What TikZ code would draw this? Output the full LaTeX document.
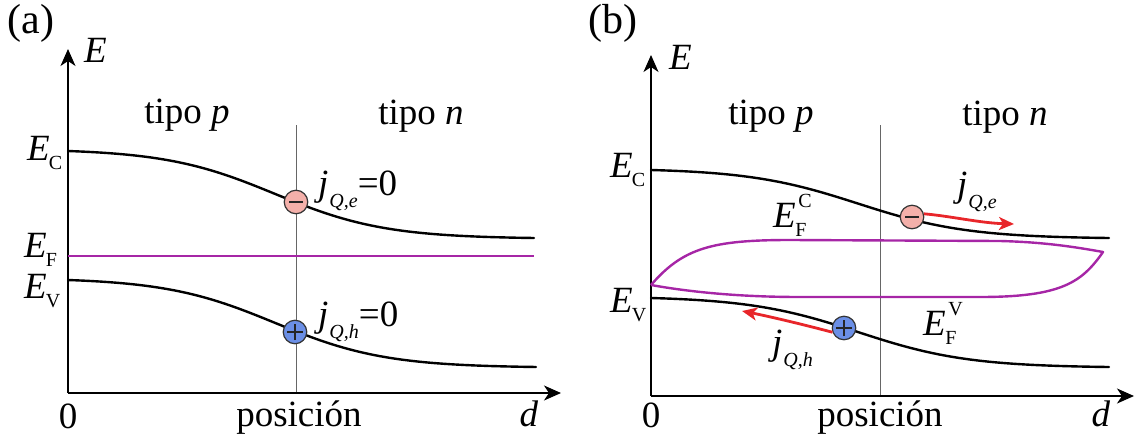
\documentclass[tikz,border=0pt]{standalone}
\usepackage{fontspec}
\setmainfont{Liberation Serif}
\usetikzlibrary{arrows.meta}
\definecolor{fermicol}{HTML}{A626A6}
\definecolor{eleccol}{HTML}{F4B0AA}
\definecolor{holecol}{HTML}{6B8FE6}
\definecolor{currcol}{HTML}{E8262A}
\newcommand{\Esub}[1]{\textit{E}\kern-1pt\raisebox{-9pt}{\fontsize{20}{20}\selectfont #1}}
\newcommand{\Esubsup}[2]{\textit{E}\kern-0.5pt\rlap{\raisebox{-9pt}{\fontsize{20}{20}\selectfont #1}}\kern3pt\raisebox{20pt}{\fontsize{20}{20}\selectfont #2}}
\newcommand{\jsub}[1]{\textit{j}\kern1pt\raisebox{-12pt}{\fontsize{20}{20}\selectfont\textit{#1}}}
\begin{document}
\begin{tikzpicture}[x=1pt,y=-1pt,
  declare function={sg(\x,\c)=1/(1+exp(-(\x-\c)/55));
                    nsg(\x,\c,\a,\b)=(sg(\x,\c)-sg(\a,\c))/(sg(\b,\c)-sg(\a,\c));},
  axisline/.style={line width=1.6pt,-{Stealth[length=17pt,width=15pt,inset=5pt]}},
  bandline/.style={line width=2.4pt,line cap=round},
  fermiline/.style={line width=2.4pt,draw=fermicol},
  divider/.style={line width=0.9pt,draw=black!60},
  carrier/.style={circle,draw=black!80,line width=1.2pt,minimum size=23.5pt,inner sep=0pt},
  minuscarrier/.style={carrier,fill=eleccol,path picture={\draw[line width=1.7pt,black!85] ([xshift=-7pt]path picture bounding box.center) -- ([xshift=7pt]path picture bounding box.center);}},
  pluscarrier/.style={carrier,fill=holecol,path picture={\draw[line width=1.7pt,black!85] ([xshift=-8pt]path picture bounding box.center) -- ([xshift=8pt]path picture bounding box.center) ([yshift=-8pt]path picture bounding box.center) -- ([yshift=8pt]path picture bounding box.center);}},
  current/.style={draw=currcol,line width=2.8pt,-{Stealth[length=15pt,width=13pt,inset=4pt]}},
  lbl/.style={inner sep=0pt,font=\fontsize{37}{37}\selectfont},
  panellbl/.style={inner sep=0pt,font=\fontsize{42}{42}\selectfont}]
\useasboundingbox (0,0) rectangle (1139,444);

% ---------------- panel (a)
\node[panellbl,anchor=base] (pa) at (31,34) {(a)};
\coordinate (aO) at (68,393);
\coordinate (aY) at (68,49);
\coordinate (aX) at (561,393);
\coordinate (aDt) at (296,125);
\coordinate (aDb) at (296,393);
\draw[divider] (aDt) -- (aDb);
\draw[axisline] (aO) -- (aY);
\draw[axisline] (aO) -- (aX);
\node[lbl,anchor=base west] (aE) at (84,63) {\textit{E}};
\node[lbl,anchor=base] (atp) at (187,123) {tipo \textit{p}};
\node[lbl,anchor=base] (atn) at (421,124) {tipo \textit{n}};
\draw[bandline] plot[domain=68:534,samples=120] (\x,{151+87*nsg(\x,275,68,534)});
\draw[bandline] plot[domain=68:536,samples=120] (\x,{280+87*nsg(\x,275,68,536)});
\coordinate (aF1) at (68,256);
\coordinate (aF2) at (534,256);
\draw[fermiline] (aF1) -- (aF2);
\node[minuscarrier] (ae) at (296,202) {};
\node[pluscarrier] (ah) at (295,332) {};
\node[lbl,anchor=base west] (aEC) at (27,160) {\Esub{C}};
\node[lbl,anchor=base west] (aEF) at (24,257) {\Esub{F}};
\node[lbl,anchor=base west] (aEV) at (24,298) {\Esub{V}};
\node[lbl,anchor=base west] (aje) at (318,195) {\jsub{Q,e}=0};
\node[lbl,anchor=base west] (ajh) at (318,326) {\jsub{Q,h}=0};
\node[lbl,anchor=base] (a0) at (68,428) {0};
\node[lbl,anchor=base] (apos) at (299,426) {posición};
\node[lbl,anchor=base] (ad) at (529,426) {\textit{d}};

% ---------------- panel (b)
\node[panellbl,anchor=base] (pb) at (613,34) {(b)};
\coordinate (bO) at (651,396);
\coordinate (bY) at (651,55);
\coordinate (bX) at (1134,396);
\coordinate (bDt) at (880,125);
\coordinate (bDb) at (880,396);
\draw[divider] (bDt) -- (bDb);
\draw[axisline] (bO) -- (bY);
\draw[axisline] (bO) -- (bX);
\node[lbl,anchor=base west] (bE) at (669,70) {\textit{E}};
\node[lbl,anchor=base] (btp) at (771,124) {tipo \textit{p}};
\node[lbl,anchor=base] (btn) at (1005,125) {tipo \textit{n}};
\draw[bandline] plot[domain=651:1109,samples=120] (\x,{170+68*nsg(\x,858,651,1109)});
\draw[bandline] plot[domain=651:1109,samples=120] (\x,{298+69*nsg(\x,858,651,1109)});
\coordinate (bL) at (651,285);
\coordinate (bR) at (1103,252);
\draw[fermiline,line join=round] (bL) .. controls (683,248) and (712,240) .. (790,240)
   -- (1000,241) .. controls (1040,242) and (1070,246) .. (bR)
   .. controls (1082,282) and (1062,297) .. (980,297)
   -- (800,297) .. controls (740,297) and (690,292) .. (bL);
\node[minuscarrier] (be) at (912,217) {};
\node[pluscarrier] (bh) at (844,328) {};
\coordinate (beT) at (1014,224);
\coordinate (bhT) at (742,311);
\draw[current] (be.15) .. controls (950,216) and (980,223) .. (beT);
\draw[current] (bh.200) .. controls (805,325) and (772,317) .. (bhT);
\node[lbl,anchor=base west] (bEC) at (610,177) {\Esub{C}};
\node[lbl,anchor=base west] (bEV) at (610,312) {\Esub{V}};
\node[lbl,anchor=base west] (bEFC) at (773,227) {\Esubsup{F}{C}};
\node[lbl,anchor=base west] (bEFV) at (923,335) {\Esubsup{F}{V}};
\node[lbl,anchor=base west] (bje) at (957,196) {\jsub{Q,e}};
\node[lbl,anchor=base west] (bjh) at (772,354) {\jsub{Q,h}};
\node[lbl,anchor=base] (b0) at (651,427) {0};
\node[lbl,anchor=base] (bpos) at (880,426) {posición};
\node[lbl,anchor=base] (bd) at (1101,426) {\textit{d}};
\end{tikzpicture}
\end{document}
